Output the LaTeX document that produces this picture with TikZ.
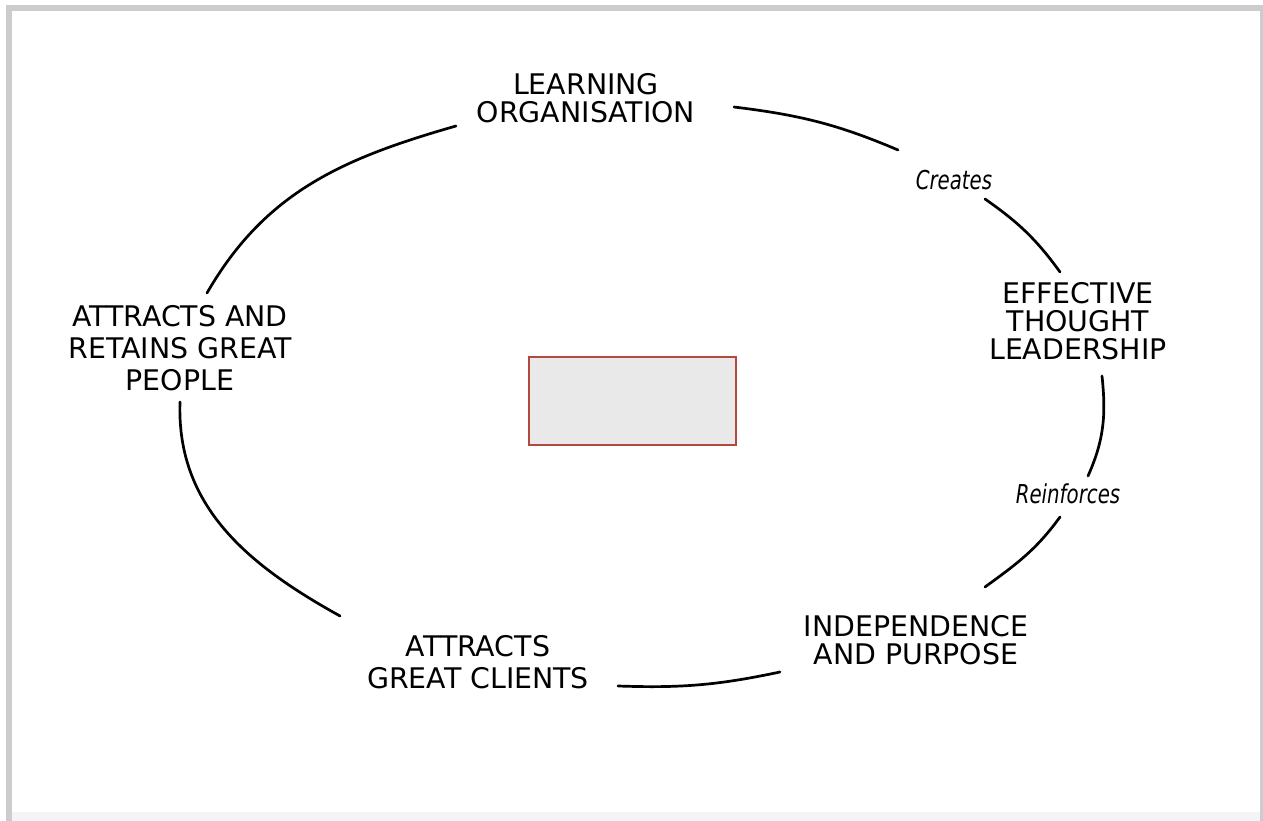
\documentclass[tikz,border=0pt]{standalone}
\usepackage{fontspec}
\setmainfont{DejaVu Sans}
\newfontfamily\verbofont[FakeStretch=0.76]{DejaVu Sans}
\usetikzlibrary{calc}

\definecolor{marcogris}{RGB}{204,204,204}
\definecolor{bandagris}{RGB}{244,244,246}
\definecolor{bordecaja}{RGB}{179,72,60}
\definecolor{rellenocaja}{RGB}{233,233,233}

\tikzset{
  etapa/.style={align=center, inner sep=0pt, font=\fontsize{28.4}{28}\selectfont},
  etapa ancha/.style={etapa, font=\fontsize{28.4}{32}\selectfont},
  verbo/.style={inner sep=0pt, font=\verbofont\itshape\fontsize{26}{26}\selectfont},
  tramo/.style={line width=2.7pt, line cap=round},
}

\begin{document}
\begin{tikzpicture}[x=1pt,y=1pt]
  % Marco de la imagen
  \useasboundingbox (0,0) rectangle (1263,821);
  \fill[marcogris] (6,0) rectangle (1263,816); % borde gris
  \fill[white] (12,9) rectangle (1260,810); % fondo blanco
  \fill[bandagris] (12,0) rectangle (1260,9); % banda inferior

  % Etapas del ciclo
  \node[etapa] (org) at (586,723) {LEARNING\\ORGANISATION};
  \node[verbo] (creates) at (954,641) {Creates};
  \node[etapa] (eff) at (1078,500) {EFFECTIVE\\THOUGHT\\LEADERSHIP};
  \node[verbo] (reinf) at (1068,327) {Reinforces};
  \node[etapa] (indep) at (916,181) {INDEPENDENCE\\AND PURPOSE};
  \node[etapa ancha] (clients) at (478,159) {ATTRACTS\\GREAT CLIENTS};
  \node[etapa ancha] (people) at (180,473) {ATTRACTS AND\\RETAINS GREAT\\PEOPLE};

  % Recuadro central
  \node[draw=bordecaja, fill=rellenocaja, line width=2.4pt, inner sep=0pt,
        minimum width=207pt, minimum height=88pt] (core) at (632.5,420) {};

  % Tramos de la elipse
  \draw[tramo] ($(org)+(148,-9)$) to[out=-7,in=157] ($(creates)+(-56,30)$);
  \draw[tramo] ($(creates)+(31,-19)$) to[out=-35,in=126] ($(eff)+(-18,49)$);
  \draw[tramo] ($(eff)+(24,-55)$) to[out=-84,in=66] ($(reinf)+(20,18)$);
  \draw[tramo] ($(reinf)+(-8,-23)$) to[out=-126,in=36] ($(indep)+(69,53)$);
  \draw[tramo] ($(indep)+(-136,-32)$) to[out=192,in=-2] ($(clients)+(140,-24)$);
  \draw[tramo] ($(clients)+(-138,46)$) to[out=151,in=-92] ($(people)+(0,-54)$);
  \draw[tramo] ($(people)+(27,55)$) to[out=60,in=-164] ($(org)+(-130,-28)$);
\end{tikzpicture}
\end{document}
